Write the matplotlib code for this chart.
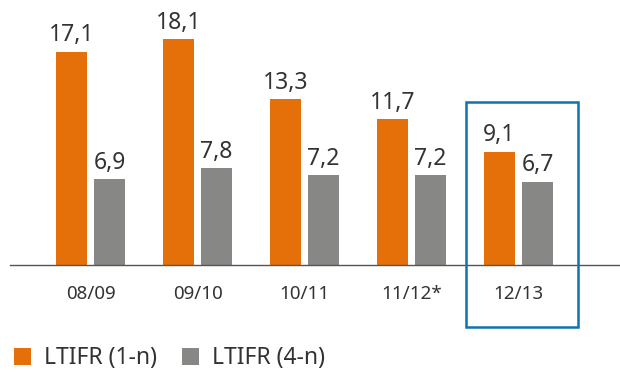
import numpy as np
import matplotlib.pyplot as plt
from matplotlib.patches import Rectangle

# LTIFR by financial year
years = ["08/09", "09/10", "10/11", "11/12*", "12/13"]
ltifr_1n = [17.1, 18.1, 13.3, 11.7, 9.1]
ltifr_4n = [6.9, 7.8, 7.2, 7.2, 6.7]

orange = "#E57009"
grey = "#878786"
text_c = "#333333"
plt.rcParams['font.family'] = ['Noto Sans', 'DejaVu Sans']
plt.rcParams['font.weight'] = 'light'

fig = plt.figure(figsize=(6.2, 3.73), dpi=100)
ax = fig.add_axes([0, 107.7 / 373, 1, 265.3 / 373])

x = np.arange(len(years))
w = 0.29
off = 0.178
b1 = ax.bar(x - off, ltifr_1n, w, color=orange, label="LTIFR (1-n)")
b2 = ax.bar(x + off, ltifr_4n, w, color=grey, label="LTIFR (4-n)")

def fmt(v):
    return f"{v:.1f}".replace(".", ",")

for bars, vals in ((b1, ltifr_1n), (b2, ltifr_4n)):
    for r, v in zip(bars, vals):
        ax.annotate(fmt(v), (r.get_x() + r.get_width() / 2, v),
                    xytext=(0, 3), textcoords="offset points",
                    ha="center", va="bottom", fontsize=16.5, color=text_c)

ax.set_xlim(-0.846, 4.949)
ax.set_ylim(0, 21.22)
ax.set_xticks(x)
ax.set_xticklabels(years, fontsize=13.5, color=text_c)
ax.tick_params(axis="x", length=0, pad=14)
ax.set_yticks([])
for s in ("top", "right", "left"):
    ax.spines[s].set_visible(False)
ax.spines["bottom"].set_color("#555555")
ax.spines["bottom"].set_linewidth(1.0)
ax.spines["bottom"].set_bounds(-0.752, 4.949)

# highlight the latest year
ax.add_patch(Rectangle((3.51, -4.94), 1.046, 18.0, fill=False,
                       edgecolor="#0F73AE", linewidth=1.8, clip_on=False, zorder=5))

fig.legend(handles=[b1, b2], loc="lower left", bbox_to_anchor=(-0.011, -0.048),
           ncol=2, frameon=False, fontsize=16.5, handlelength=0.75,
           handleheight=0.75, handletextpad=0.55, columnspacing=1.1,
           labelcolor=text_c)

fig.savefig("out.png", dpi=100)
